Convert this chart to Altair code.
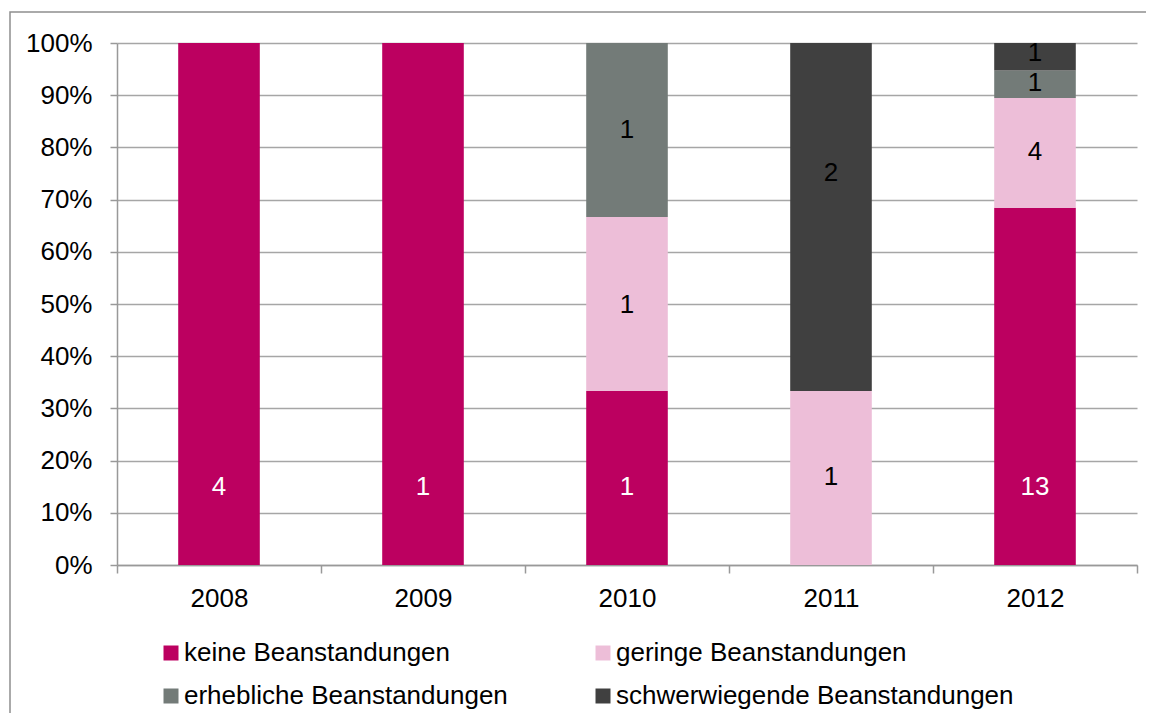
import altair as alt
import pandas as pd

years = ["2008", "2009", "2010", "2011", "2012"]
categories = [
    "keine Beanstandungen",
    "geringe Beanstandungen",
    "erhebliche Beanstandungen",
    "schwerwiegende Beanstandungen",
]
colors = ["#BC0060", "#EDBED8", "#737B78", "#404040"]

keine = [4, 1, 1, 0, 13]
geringe = [0, 0, 1, 1, 4]
erhebliche = [0, 0, 1, 0, 1]
schwerwiegend = [0, 0, 0, 2, 1]

# where each count label sits, as a share of the bar
label_keine = [0.149, 0.149, 0.149, None, 0.149]
label_geringe = [None, None, 0.498, 0.169, 0.791]
label_erhebliche = [None, None, 0.833, None, 0.923]
label_schwer = [None, None, None, 0.751, 0.981]

series = [keine, geringe, erhebliche, schwerwiegend]
labels = [label_keine, label_geringe, label_erhebliche, label_schwer]

rows = []
for ci, cat in enumerate(categories):
    for yi, yr in enumerate(years):
        c = series[ci][yi]
        if c > 0:
            rows.append({"year": yr, "cat": cat, "idx": ci, "count": c, "lab": labels[ci][yi]})
df = pd.DataFrame(rows)

FONT = "Liberation Sans"
FS = 26

xenc = alt.X(
    "year:N",
    sort=years,
    title=None,
    scale=alt.Scale(paddingInner=0, paddingOuter=0),
    axis=alt.Axis(
        labelAngle=0,
        tickBand="extent",
        tickSize=8,
        labelPadding=12,
        grid=False,
        domainColor="#999999",
        tickColor="#999999",
        domainWidth=1.5,
        tickWidth=1.5,
    ),
)

bars = alt.Chart(df).mark_bar(width=alt.RelativeBandSize(0.4)).encode(
    x=xenc,
    y=alt.Y(
        "count:Q",
        stack="normalize",
        title=None,
        scale=alt.Scale(domain=[0, 1], nice=False),
        axis=alt.Axis(
            values=[i / 10 for i in range(11)],
            format=".0%",
            tickSize=7,
            labelPadding=18,
            grid=True,
            gridColor="#a6a6a6",
            gridWidth=1.5,
            domainColor="#999999",
            tickColor="#999999",
            domainWidth=1.5,
            tickWidth=1.5,
        ),
    ),
    color=alt.Color(
        "cat:N",
        scale=alt.Scale(domain=categories, range=colors),
        legend=alt.Legend(
            title=None,
            orient="none",
            legendX=41,
            legendY=597,
            direction="horizontal",
            columns=2,
            columnPadding=82,
            rowPadding=17,
            symbolType="square",
            symbolSize=225,
            symbolStrokeWidth=0,
            symbolOpacity=1,
            labelFont=FONT,
            labelFontSize=FS,
            labelColor="#000000",
            labelOffset=0,
            labelLimit=600,
        ),
    ),
    order=alt.Order("idx:Q", sort="ascending"),
)

texts = alt.Chart(df).mark_text(font=FONT, fontSize=FS, baseline="middle").encode(
    x=alt.X("year:N", sort=years),
    y=alt.Y("lab:Q"),
    text=alt.Text("count:Q"),
    color=alt.condition(
        alt.datum.cat == "keine Beanstandungen", alt.value("#ffffff"), alt.value("#000000")
    ),
)

border = alt.Chart(pd.DataFrame({"a": [0]})).mark_rect(
    fillOpacity=0, stroke="#8f8f8f", strokeWidth=1.5
).encode(
    x=alt.value(-107), x2=alt.value(1100), y=alt.value(-31), y2=alt.value(700)
)

chart = (
    alt.layer(border, bars, texts)
    .properties(
        width=1020,
        height=522,
        autosize=alt.AutoSizeParams(type="none"),
        padding={"left": 109, "top": 35, "right": 9, "bottom": 148},
    )
    .configure_view(stroke=None)
    .configure_axis(labelFont=FONT, labelFontSize=FS, labelColor="#000000")
)

chart.save("out.html", embed_options={"renderer": "svg", "actions": False})
